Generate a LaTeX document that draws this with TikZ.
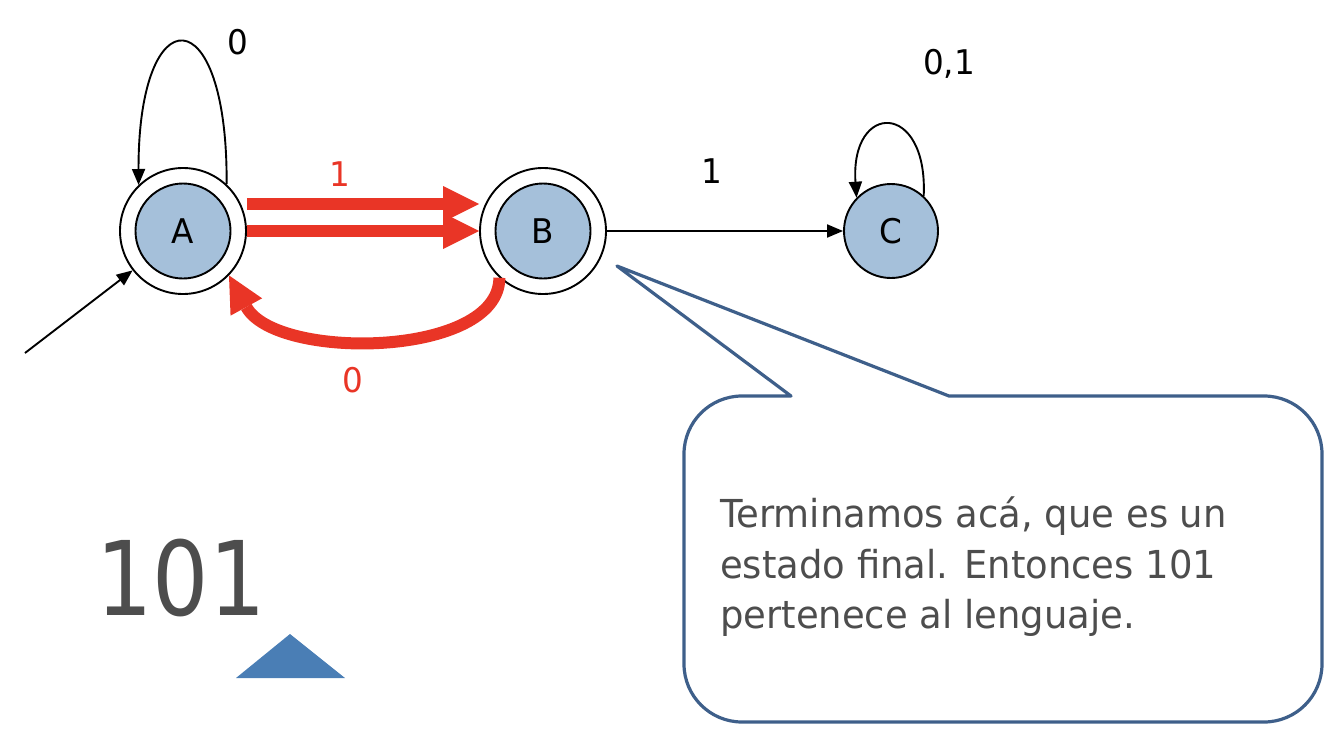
\documentclass[tikz,border=0pt]{standalone}
\usepackage{fontspec}
\setmainfont{DejaVu Sans}[FakeStretch=0.96]
\newfontfamily\bigfont{DejaVu Sans}[FakeStretch=0.86]
\usetikzlibrary{arrows.meta}
\definecolor{statefill}{RGB}{165,192,218}
\definecolor{redc}{RGB}{233,53,38}
\definecolor{callc}{RGB}{62,95,138}
\definecolor{textgray}{RGB}{77,77,77}
\definecolor{trifill}{RGB}{74,126,181}
\begin{document}
\begin{tikzpicture}[x=1pt,y=-1pt,
  outerc/.style={circle,draw,line width=1.9pt,minimum size=126pt,inner sep=0pt},
  innerc/.style={circle,draw,line width=1.9pt,fill=statefill,minimum size=95pt,inner sep=0pt,font=\fontsize{34}{40}\selectfont},
  lbl/.style={inner sep=0pt,font=\fontsize{34}{40}\selectfont},
  blk/.style={line width=1.9pt,-{Triangle[length=16pt,width=13pt]}},
  redarr/.style={draw=redc,line width=12pt,-{Triangle[length=36pt,width=36pt,line width=0pt]}},
  callout/.style={draw=callc,line width=3.2pt,line join=round},
  ctext/.style={anchor=base west,inner sep=0pt,text=textgray,font=\fontsize{38.5}{46}\selectfont}]
\useasboundingbox (0,0) rectangle (1344,734);
% states
\node[outerc] (A) at (183,231) {};
\node[innerc] (Ai) at (A) {A};
\node[outerc] (B) at (543,231) {};
\node[innerc] (Bi) at (B) {B};
\node[innerc,minimum size=94pt] (C) at (891,231) {C};
% connectors
\coordinate (init) at (25,353);
\draw[blk] (init) -- (A.-142);
\draw[blk] (A.47) .. controls (228,-5) and (138,-5) .. (A.134);
\draw[redarr] ([yshift=27pt]A.east) -- ([yshift=27pt]B.west);
\draw[redarr] (A.east) -- (B.west);
\draw[redarr] (B.-133) .. controls (499,358) and (276,361) .. (A.-44);
\draw[blk] (B.east) -- (C.west);
\draw[blk] (C.47) .. controls (928,101) and (850,101) .. (C.136);
% labels
\node[lbl] (l0) at (238,42) {0};
\node[lbl,text=redc] (l1) at (340,174) {1};
\node[lbl,text=redc] (l2) at (353,380) {0};
\node[lbl] (l3) at (712,171) {1};
\node[lbl,anchor=base] (l4) at (949,74) {0,1};
% callout
\draw[callout] (791,396) -- (617,266) -- (949,396) -- (1264,396)
  arc[start angle=-90,end angle=0,radius=58] -- (1322,664)
  arc[start angle=0,end angle=90,radius=58] -- (742,722)
  arc[start angle=90,end angle=180,radius=58] -- (684,454)
  arc[start angle=180,end angle=270,radius=58] -- cycle;
\node[ctext] (t1) at (720,527) {Terminamos acá, que es un};
\node[ctext] (t2) at (720,578) {estado final. Entonces 101};
\node[ctext] (t3) at (720,628) {pertenece al lenguaje.};
% input
\node[inner sep=0pt,text=textgray,font=\bigfont\fontsize{103}{120}\selectfont,anchor=base] (num) at (181,615) {101};
\fill[trifill] (290,634) -- (345,678) -- (236,678) -- cycle;
\end{tikzpicture}
\end{document}
